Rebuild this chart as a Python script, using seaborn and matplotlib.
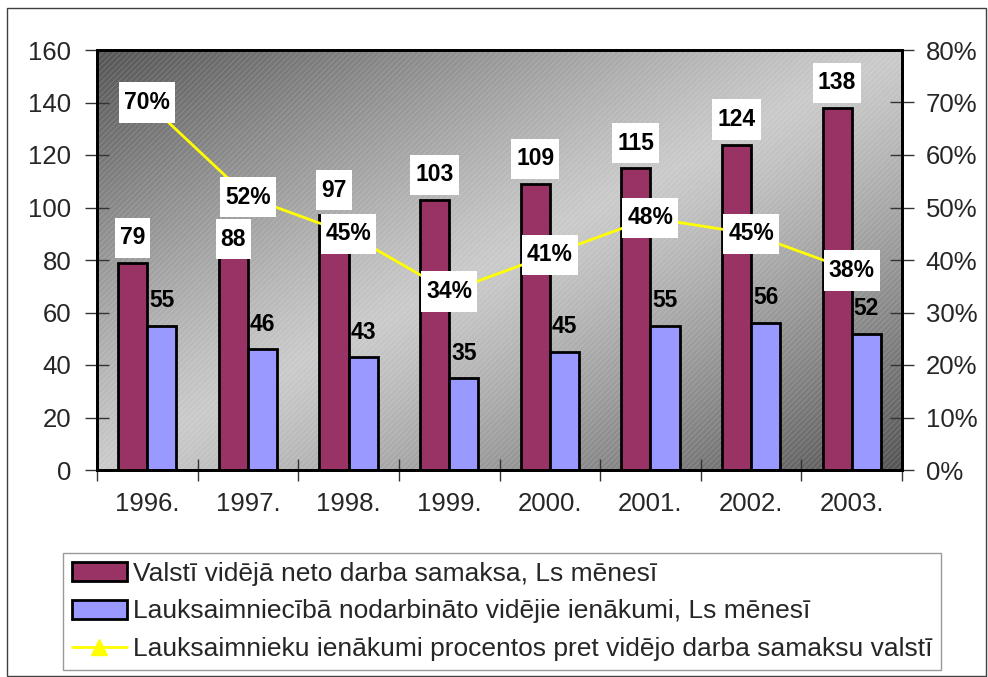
import numpy as np
import pandas as pd
import matplotlib
matplotlib.use("Agg")
import matplotlib.pyplot as plt
import seaborn as sns
from matplotlib.patches import Patch, Rectangle
from matplotlib.lines import Line2D
from matplotlib.path import Path
from matplotlib.ticker import PercentFormatter

# --- data -------------------------------------------------------------
years = ["1996.", "1997.", "1998.", "1999.", "2000.", "2001.", "2002.", "2003."]
avg_wage = [79, 88, 97, 103, 109, 115, 124, 138]          # Ls per month
farm_income = [55, 46, 43, 35, 45, 55, 56, 52]            # Ls per month
farm_share = [70, 52, 45, 34, 41, 48, 45, 38]             # percent of avg wage

series_names = [
    "Valstī vidējā neto darba samaksa, Ls mēnesī",
    "Lauksaimniecībā nodarbināto vidējie ienākumi, Ls mēnesī",
    "Lauksaimnieku ienākumi procentos pret vidējo darba samaksu valstī",
]

MAROON = "#993366"
LAVENDER = "#9999FF"
YELLOW = "#FFFF00"

sns.set_theme(style="white")
plt.rcParams["font.family"] = ["Liberation Sans", "DejaVu Sans"]
plt.rcParams["hatch.linewidth"] = 0.6

W, H = 988, 677
fig = plt.figure(figsize=(W / 100, H / 100), dpi=100)
fig.patch.set_facecolor("white")

left, right, top, bottom = 97, 902, 50, 470
ax = fig.add_axes([left / W, 1 - bottom / H, (right - left) / W, (bottom - top) / H])

# diagonal grey gradient behind the plot area
n = 400
gx, gy = np.meshgrid(np.linspace(0, 1, n), np.linspace(0, 1, n))
t = np.abs(gx - gy) ** 1.2
light, dark = 0.79, 0.33
img = light - (light - dark) * t
ax.imshow(img, cmap="gray", vmin=0, vmax=1, extent=[0, 1, 0, 1], origin="lower",
          transform=ax.transAxes, aspect="auto", zorder=0, interpolation="bilinear")
ax.add_patch(Rectangle((0, 0), 1, 1, transform=ax.transAxes, facecolor="none",
                       edgecolor=(1, 1, 1, 0.18), hatch="//////", lw=0, zorder=0.5))


def label_box(x0, y0, width, height, mutation_size):
    """White label box: narrow side padding, tall fixed height."""
    padx = 0.22 * mutation_size
    box_h = 1.75 * mutation_size
    cy = y0 + height / 2
    xa, xb = x0 - padx, x0 + width + padx
    ya, yb = cy - box_h / 2, cy + box_h / 2
    return Path([(xa, ya), (xb, ya), (xb, yb), (xa, yb), (xa, ya)], closed=True)


BOX = dict(boxstyle=label_box, fc="white", ec="none")
LABEL_SIZE = 16.5

# --- bars ---------------------------------------------------------------
df = pd.DataFrame({
    "year": years * 2,
    "series": [series_names[0]] * len(years) + [series_names[1]] * len(years),
    "value": avg_wage + farm_income,
})
sns.barplot(data=df, x="year", y="value", hue="series", palette=[MAROON, LAVENDER],
            width=0.58, saturation=1, edgecolor="black", linewidth=2,
            legend=False, ax=ax, zorder=2)

ax.set_xlim(-0.5, len(years) - 0.5)
ax.set_ylim(0, 160)
ax.set_yticks(np.arange(0, 161, 20))
ax.set_xlabel("")
ax.set_ylabel("")

off = 0.145
# vertical label offsets (pixels); the 1997 label sits lower to clear the ratio label
wage_label_dy = [25, 0, 25, 25, 25, 25, 25, 25]
for i, v in enumerate(avg_wage):
    ax.annotate(str(v), xy=(i - off, v), xytext=(0, wage_label_dy[i]),
                textcoords="offset pixels", ha="center", va="center", fontsize=LABEL_SIZE,
                fontweight="bold", color="black", bbox=BOX, zorder=5)
for i, v in enumerate(farm_income):
    ax.annotate(str(v), xy=(i + off, v), xytext=(0, 25), textcoords="offset pixels",
                ha="center", va="center", fontsize=LABEL_SIZE, fontweight="bold",
                color="black", zorder=5)

# --- ratio line on secondary axis ----------------------------------------
ax2 = ax.twinx()
share = np.array(farm_share) / 100
sns.lineplot(x=np.arange(len(years)), y=share, ax=ax2, color=YELLOW, lw=2,
             marker="^", markersize=9, markeredgecolor=YELLOW, zorder=3)
ax2.set_ylim(0, 0.8)
ax2.set_yticks(np.arange(0, 0.81, 0.1))
ax2.yaxis.set_major_formatter(PercentFormatter(1.0, decimals=0))
ax2.set_ylabel("")
for i, s in enumerate(farm_share):
    ax2.annotate(f"{s}%", xy=(i, s / 100), ha="center", va="center", fontsize=LABEL_SIZE,
                 fontweight="bold", color="black", bbox=BOX, zorder=6)

# --- axes styling -------------------------------------------------------
for a in (ax, ax2):
    for sp in a.spines.values():
        sp.set_color("black")
        sp.set_linewidth(2)
        sp.set_visible(True)

ax.tick_params(axis="y", direction="inout", length=17, width=1, color="#333333",
               labelsize=18.5, pad=10, left=True)
ax2.tick_params(axis="y", direction="inout", length=17, width=1, color="#333333",
                labelsize=18.5, pad=8.5, right=True)
ax.set_xticks(range(len(years)))
ax.set_xticklabels(years)
ax.tick_params(axis="x", which="major", length=0, labelsize=18.5, pad=16)
ax.set_xticks(np.arange(-0.5, len(years), 1), minor=True)
ax.tick_params(axis="x", which="minor", direction="inout", length=16, width=1,
               color="#333333", bottom=True)

# --- legend -------------------------------------------------------------
handles = [
    Patch(facecolor=MAROON, edgecolor="black", linewidth=2),
    Patch(facecolor=LAVENDER, edgecolor="black", linewidth=2),
    Line2D([0], [0], color=YELLOW, lw=2, marker="^", markersize=12,
           markeredgecolor=YELLOW),
]
leg = fig.legend(handles, series_names, loc="upper left",
                 bbox_to_anchor=(63 / W, 1 - 553 / H), frameon=True, fancybox=False,
                 edgecolor="#808080", fontsize=19, handlelength=2.1, handleheight=0.75,
                 handletextpad=0.22, labelspacing=0.52, borderpad=0.33, borderaxespad=0)
leg.get_frame().set_linewidth(1)

# outer frame of the chart
fig.patches.append(Rectangle((7 / W, 1 / H), 979 / W, 668 / H, transform=fig.transFigure,
                             fill=False, edgecolor="#404040", lw=1))

fig.savefig("out.png", dpi=100)
